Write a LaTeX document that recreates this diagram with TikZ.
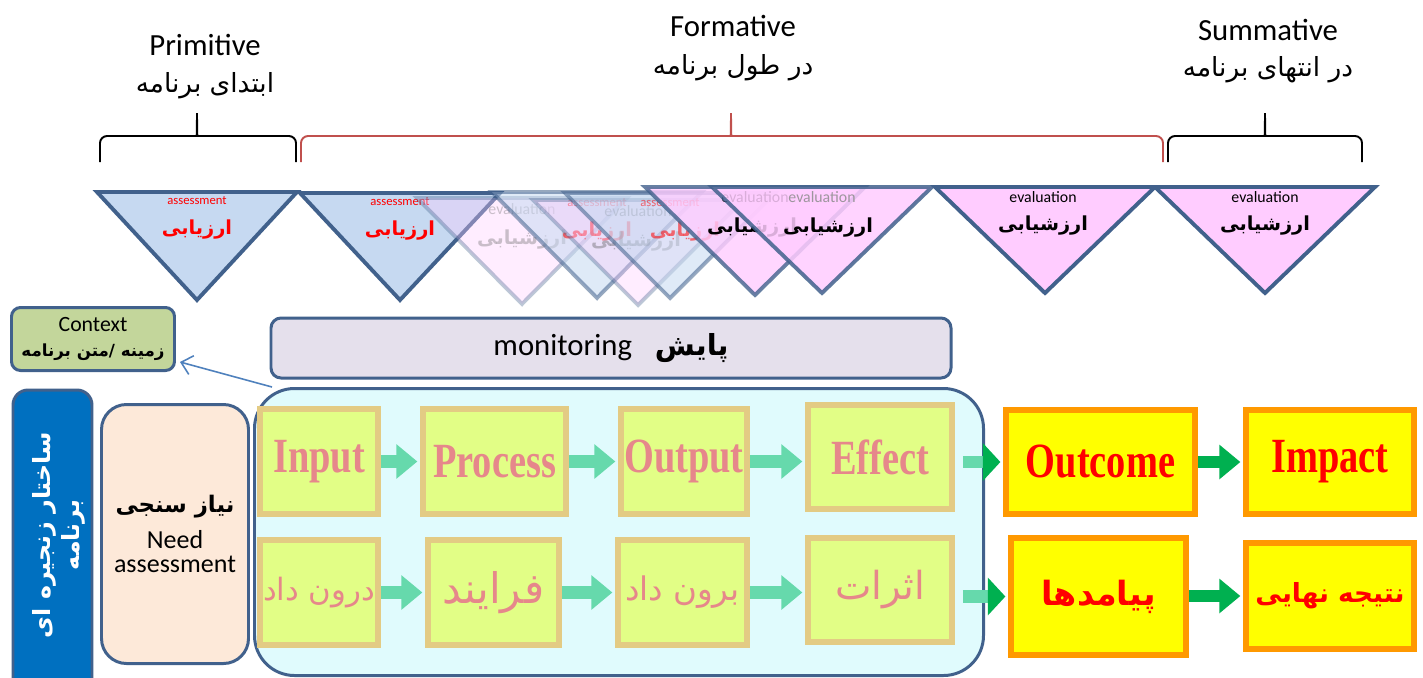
\documentclass[tikz,border=0pt]{standalone}
\usepackage{fontspec}
\setmainfont{Carlito}
\newfontfamily\fafont[Script=Arabic]{DejaVu Sans}
\newfontfamily\boxserif[FakeStretch=0.78]{Liberation Serif}
\TeXXeTstate=1
\newcommand\fatext[1]{{\fafont\beginR #1\endR}}
\newcommand\fsz[1]{\fontsize{#1}{#1}\selectfont}
\usetikzlibrary{arrows.meta,calc}
\definecolor{triedge}{HTML}{41618C}
\definecolor{trib}{HTML}{C6D9F1}
\definecolor{trip}{HTML}{FFCCFF}
\definecolor{bracered}{HTML}{C0504D}
\definecolor{ctxfill}{HTML}{C3D69B}
\definecolor{monfill}{HTML}{E5E0EC}
\definecolor{needfill}{HTML}{FDE9D9}
\definecolor{contfill}{HTML}{E0FBFD}
\definecolor{vblue}{HTML}{0070C0}
\definecolor{yfill}{HTML}{E2FE86}
\definecolor{ybord}{HTML}{E3CB84}
\definecolor{salmon}{HTML}{E6878B}
\definecolor{ofill}{HTML}{FFFF00}
\definecolor{obord}{HTML}{FF9900}
\definecolor{lteal}{HTML}{66D9AC}
\definecolor{dkgreen}{HTML}{00B050}
\definecolor{ctxline}{HTML}{4F81BD}
\definecolor{redtxt}{HTML}{FF0000}
\begin{document}
\begin{tikzpicture}[x=0.02cm,y=-0.02cm,
  sz/.style 2 args={minimum width=#1*0.02cm, minimum height=#2*0.02cm},
  bracestyle/.style={line width=1.1pt},
  tri/.style={draw=triedge, line width=2.2pt, line join=miter},
  bluetri/.style={tri, fill=trib},
  pinktri/.style={tri, fill=trip},
  small/.style={inner sep=0pt, font=\fsz{7.2}},
  evalsmall/.style={inner sep=0pt, font=\fsz{9}},
  trilabel/.style={inner sep=0pt, font=\fsz{11}\bfseries},
  headlabel/.style={inner sep=0pt, font=\fsz{17.5}},
  headfa/.style={inner sep=0pt, font=\fsz{15}},
  ybox/.style={draw=ybord, line width=3.4pt, fill=yfill, text=salmon, inner sep=0pt},
  obox/.style={draw=obord, line width=3.4pt, fill=ofill, text=redtxt, inner sep=0pt},
  lat/.style={font=\boxserif\fsz{28}\bfseries},
  blk/.style={draw=lteal, line width=7pt, shorten >=1.5pt, -{Triangle[length=12pt,width=19pt]}},
  dkblk/.style={draw=dkgreen, line width=7pt, shorten >=1.5pt, -{Triangle[length=12pt,width=19pt]}},
  dkhead/.style={draw=dkgreen, line width=7pt, shorten >=1.5pt, -{Triangle[length=10pt,width=21pt]}},
  lshaft/.style={draw=lteal, line width=7pt},
]
\useasboundingbox (0,0) rectangle (1423,677);
\clip (0,0) rectangle (1423,677);
\fill[white] (0,0) rectangle (1423,677);

% ---------- braces ----------
\draw[bracestyle, rounded corners=4pt] (100,162) -- (100,136) -- (191,136)
  .. controls (196,136) and (197,128) .. (197,109)
  .. controls (197,128) and (198,136) .. (203,136) -- (296,136) -- (296,162);
\draw[bracestyle, bracered, rounded corners=4pt] (301,162) -- (301,136) -- (725,136)
  .. controls (730,136) and (731,128) .. (731,109)
  .. controls (731,128) and (732,136) .. (737,136) -- (1163,136) -- (1163,162);
\draw[bracestyle, rounded corners=4pt] (1168,162) -- (1168,136) -- (1259,136)
  .. controls (1264,136) and (1265,128) .. (1265,109)
  .. controls (1265,128) and (1266,136) .. (1271,136) -- (1362,136) -- (1362,162);

\node[headlabel] (prim) at (205,45) {Primitive};
\node[headfa] (primfa) at (205,86) {\fatext{ابتدای برنامه}};
\node[headlabel] (form) at (733,26) {Formative};
\node[headfa] (formfa) at (733,68) {\fatext{در طول برنامه}};
\node[headlabel] (summ) at (1268,30) {Summative};
\node[headfa] (summfa) at (1268,70) {\fatext{در انتهای برنامه}};

% ---------- triangles ----------
% A
\draw[bluetri] (97,192) -- (297,192) -- (197,300) -- cycle;
\node[small, text=redtxt] (tAs) at (197,201) {assessment};
\node[trilabel, text=redtxt] (tAf) at (197,230) {\fatext{ارزیابی}};
% B
\draw[bluetri] (300,193) -- (500,193) -- (400,300) -- cycle;
\node[small, text=redtxt] (tBs) at (400,202) {assessment};
\node[trilabel, text=redtxt] (tBf) at (400,231) {\fatext{ارزیابی}};
% C faded pink
\begin{scope}[opacity=0.35]
\draw[pinktri] (417,198) -- (627,198) -- (522,304) -- cycle;
\node[evalsmall, text=black!60] (tCs) at (522,209) {evaluation};
\node[trilabel, text=black!60] (tCf) at (522,240) {\fatext{ارزشیابی}};
\end{scope}
% D blue semi
\begin{scope}[opacity=0.55]
\draw[bluetri] (492,192) -- (702,192) -- (597,298) -- cycle;
\node[small, text=redtxt] (tDs) at (597,203) {assessment};
\node[trilabel, text=redtxt] (tDf) at (597,232) {\fatext{ارزیابی}};
\end{scope}
% E faded pink
\begin{scope}[opacity=0.35]
\draw[pinktri] (533,200) -- (743,200) -- (638,305) -- cycle;
\node[evalsmall, text=black!70] (tEs) at (638,211) {evaluation};
\node[trilabel, text=black!70] (tEf) at (636,242) {\fatext{ارزشیابی}};
\end{scope}
% F blue semi
\begin{scope}[opacity=0.55]
\draw[bluetri] (565,193) -- (775,193) -- (670,298) -- cycle;
\node[small, text=redtxt] (tFs) at (670,203) {assessment};
\node[trilabel, text=redtxt] (tFf) at (685,232) {\fatext{ارزیابی}};
\end{scope}
% G
\begin{scope}[opacity=0.8]
\draw[pinktri] (645,187) -- (865,187) -- (755,295) -- cycle;
\end{scope}
\node[evalsmall] (tGs) at (755,197) {evaluation};
\node[trilabel] (tGf) at (752,228) {\fatext{ارزشیابی}};
% H
\begin{scope}[opacity=0.85]
\draw[pinktri] (712,187) -- (932,187) -- (822,293) -- cycle;
\node[evalsmall, text=black!45] (tHs) at (822,197) {evaluation};
\end{scope}
\node[trilabel] (tHf) at (828,228) {\fatext{ارزشیابی}};
% I
\draw[pinktri] (935,187) -- (1155,187) -- (1045,293) -- cycle;
\node[evalsmall] (tIs) at (1043,197) {evaluation};
\node[trilabel] (tIf) at (1043,226) {\fatext{ارزشیابی}};
% J
\draw[pinktri] (1155,187) -- (1375,187) -- (1265,293) -- cycle;
\node[evalsmall] (tJs) at (1265,197) {evaluation};
\node[trilabel] (tJf) at (1265,226) {\fatext{ارزشیابی}};

% ---------- context & monitoring ----------
\node[draw=triedge, line width=1.7pt, fill=ctxfill, rounded corners=0.18cm, sz={163}{63},
      align=center, inner sep=0pt] (ctx) at (93,339)
      {{\fsz{12.4}Context}\\[2pt]{\fsz{9.5}\bfseries\fatext{زمینه /متن برنامه}}};
\node[draw=triedge, line width=1.7pt, fill=monfill, rounded corners=0.2cm, sz={680}{60},
      inner sep=0pt] (mon) at (611,348)
      {{\fsz{17.5}monitoring}\hspace{1.3em}{\fsz{16.5}\bfseries\fatext{پایش}}};

% ---------- left columns ----------
\node[draw=triedge, line width=1.7pt, fill=vblue, rounded corners=0.3cm, sz={79}{320},
      inner sep=0pt] (chain) at (52.5,550) {};
\node[rotate=90, text=white, align=center, inner sep=0pt, font=\fsz{13.5}\bfseries] (chaintxt) at (59,535)
      {\fatext{ساختار زنجیره ای}\\[2pt]\fatext{برنامه}};
\node[draw=triedge, line width=1.7pt, fill=needfill, rounded corners=0.5cm, sz={147}{259},
      align=center, inner sep=0pt] (need) at (175,534)
      {{\fsz{13}\bfseries\fatext{نیاز سنجی}}\\[6pt]{\fsz{14.8}Need}\\[2pt]{\fsz{14.8}assessment}};

% ---------- container ----------
\node[draw=triedge, line width=1.7pt, fill=contfill, rounded corners=0.8cm, sz={729}{287},
      inner sep=0pt] (cont) at (619,532) {};

\draw[ctxline, line width=0.9pt, -{Straight Barb[length=6pt,width=11pt]}]
  ([xshift=0.38cm]cont.north west) -- ($(ctx.south east)+(4,-10)$);

% ---------- inner boxes ----------
\node[ybox, sz={118}{105}, lat] (inp) at (319,461.5) {Input};
\node[ybox, sz={143}{105}, lat] (proc) at (494.5,461.5) {Process};
\node[ybox, sz={126}{105}, lat] (outp) at (684,461.5) {Output};
\node[ybox, sz={144}{104}, lat] (eff) at (880,457) {Effect};

\node[ybox, sz={118}{105}, font=\fsz{17.5}] (inpfa) at (319,592.5) {\fatext{درون داد}};
\node[ybox, sz={131}{105}, font=\fsz{24}] (procfa) at (493.5,592.5) {\fatext{فرایند}};
\node[ybox, sz={129}{105}, font=\fsz{18.5}] (outpfa) at (682.5,592.5) {\fatext{برون داد}};
\node[ybox, sz={144}{104}, font=\fsz{22}] (efffa) at (880,590) {\fatext{اثرات}};

\draw[blk] (inp.east) -- (proc.west |- inp.east);
\draw[blk] (proc.east) -- (outp.west |- proc.east);
\draw[blk] (outp.east) -- (eff.west |- outp.east);
\draw[blk] (inpfa.east) -- (procfa.west |- inpfa.east);
\draw[blk] (procfa.east) -- (outpfa.west |- procfa.east);
\draw[blk] (outpfa.east) -- (efffa.west |- outpfa.east);

% ---------- outer boxes ----------
\node[obox, sz={189}{104}, lat] (outc) at (1100.5,462) {Outcome};
\node[obox, sz={168}{104}, lat] (imp) at (1330,462) {Impact};
\node[obox, sz={175}{117}, font=\fsz{19}\bfseries] (outcfa) at (1098.5,596.5) {\fatext{پیامدها}};
\node[obox, sz={168}{106}, font=\fsz{15}\bfseries] (impfa) at (1330,596) {\fatext{نتیجه نهایی}};

\draw[lshaft] ($(eff.east |- outc.west)+(8,0)$) -- ($(outc.west)+(-16,0)$);
\draw[dkhead] ($(outc.west)+(-20,0)$) -- (outc.west);
\draw[lshaft] ($(efffa.east |- outcfa.west)+(8,0)$) -- ($(outcfa.west)+(-16,0)$);
\draw[dkhead] ($(outcfa.west)+(-20,0)$) -- (outcfa.west);

\draw[dkblk] (outc.east) -- (imp.west |- outc.east);
\draw[dkblk] (outcfa.east |- impfa.west) -- (impfa.west);
\end{tikzpicture}
\end{document}
